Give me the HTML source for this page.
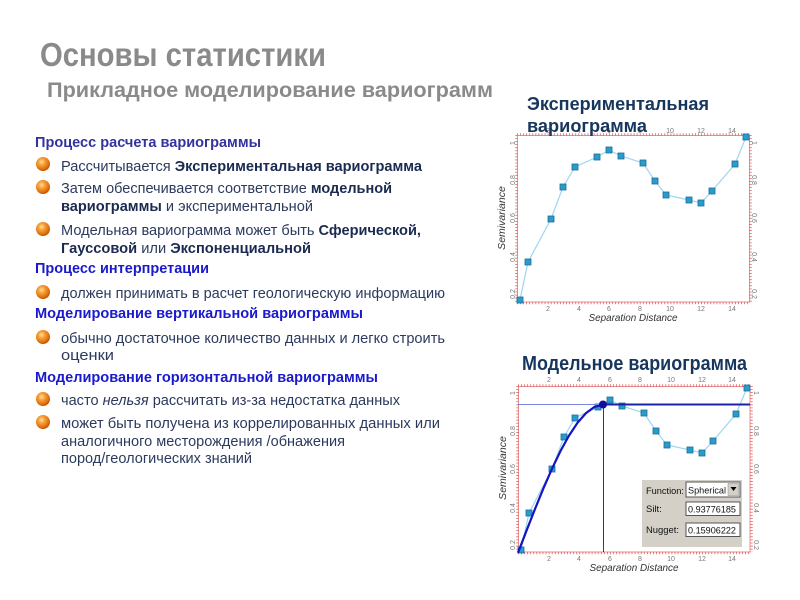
<!DOCTYPE html>
<html><head><meta charset="utf-8"><style>
html,body{margin:0;padding:0;background:#fff;}
svg{display:block;}
text{font-family:"Liberation Sans","DejaVu Sans",sans-serif;}
</style></head><body>
<svg width="800" height="600" viewBox="0 0 800 600" xmlns="http://www.w3.org/2000/svg">
<defs>
<radialGradient id="ball" cx="0.4" cy="0.35" r="0.65">
<stop offset="0" stop-color="#ffe0a0"/>
<stop offset="0.35" stop-color="#f7a23a"/>
<stop offset="0.8" stop-color="#e07010"/>
<stop offset="1" stop-color="#b85500"/>
</radialGradient>
</defs>
<rect width="800" height="600" fill="#fff"/>

<!-- Titles -->
<text x="40" y="66" font-size="33" font-weight="bold" fill="#8a8a8a" textLength="286" lengthAdjust="spacingAndGlyphs">Основы статистики</text>
<text x="47" y="97" font-size="21" font-weight="bold" fill="#8a8a8a" textLength="446" lengthAdjust="spacingAndGlyphs">Прикладное моделирование вариограмм</text>

<!-- Left text -->
<g font-size="15">
<text x="35" y="147" font-weight="bold" fill="#33339e" textLength="226" lengthAdjust="spacingAndGlyphs">Процесс расчета вариограммы</text>
<circle cx="43" cy="164" r="7" fill="url(#ball)"/>
<text x="61" y="171" fill="#2c3a5e" textLength="361" lengthAdjust="spacingAndGlyphs">Рассчитывается <tspan font-weight="bold" fill="#1a2a50">Экспериментальная вариограмма</tspan></text>
<circle cx="43" cy="187" r="7" fill="url(#ball)"/>
<text x="61" y="193" fill="#2c3a5e" textLength="331" lengthAdjust="spacingAndGlyphs">Затем обеспечивается соответствие <tspan font-weight="bold" fill="#1a2a50">модельной</tspan></text>
<text x="61" y="211" fill="#2c3a5e" textLength="252" lengthAdjust="spacingAndGlyphs"><tspan font-weight="bold" fill="#1a2a50">вариограммы</tspan> и экспериментальной</text>
<circle cx="43" cy="229" r="7" fill="url(#ball)"/>
<text x="61" y="235" fill="#2c3a5e" textLength="360" lengthAdjust="spacingAndGlyphs">Модельная вариограмма может быть <tspan font-weight="bold" fill="#1a2a50">Сферической,</tspan></text>
<text x="61" y="253" fill="#2c3a5e" textLength="250" lengthAdjust="spacingAndGlyphs"><tspan font-weight="bold" fill="#1a2a50">Гауссовой</tspan> или <tspan font-weight="bold" fill="#1a2a50">Экспоненциальной</tspan></text>
<text x="35" y="273" font-weight="bold" fill="#1a1acc" textLength="174" lengthAdjust="spacingAndGlyphs">Процесс интерпретации</text>
<circle cx="43" cy="292" r="7" fill="url(#ball)"/>
<text x="61" y="298" fill="#2c3a5e" textLength="384" lengthAdjust="spacingAndGlyphs">должен принимать в расчет геологическую информацию</text>
<text x="35" y="318" font-weight="bold" fill="#1a1acc" textLength="328" lengthAdjust="spacingAndGlyphs">Моделирование вертикальной вариограммы</text>
<circle cx="43" cy="337" r="7" fill="url(#ball)"/>
<text x="61" y="343" fill="#2c3a5e" textLength="384" lengthAdjust="spacingAndGlyphs">обычно достаточное количество данных и легко строить</text>
<text x="61" y="360" fill="#2c3a5e" textLength="53" lengthAdjust="spacingAndGlyphs">оценки</text>
<text x="35" y="382" font-weight="bold" fill="#1a1acc" textLength="343" lengthAdjust="spacingAndGlyphs">Моделирование горизонтальной вариограммы</text>
<circle cx="43" cy="399" r="7" fill="url(#ball)"/>
<text x="61" y="405" fill="#2c3a5e" textLength="339" lengthAdjust="spacingAndGlyphs">часто <tspan font-style="italic">нельзя</tspan> рассчитать из-за недостатка данных</text>
<circle cx="43" cy="422" r="7" fill="url(#ball)"/>
<text x="61" y="428" fill="#2c3a5e" textLength="379" lengthAdjust="spacingAndGlyphs">может быть получена из коррелированных данных  или</text>
<text x="61" y="446" fill="#2c3a5e" textLength="284" lengthAdjust="spacingAndGlyphs">аналогичного месторождения /обнажения</text>
<text x="61" y="463" fill="#2c3a5e" textLength="191" lengthAdjust="spacingAndGlyphs">пород/геологических знаний</text>
</g>

<!-- ===== Chart 1 ===== -->
<g>
<g font-size="7" fill="#777" text-anchor="middle">
<text x="548" y="133">2</text><text x="579" y="133">4</text><text x="609" y="133">6</text><text x="640" y="133">8</text><text x="670" y="133">10</text><text x="701" y="133">12</text><text x="732" y="133">14</text>
<text x="548" y="311">2</text><text x="579" y="311">4</text><text x="609" y="311">6</text><text x="640" y="311">8</text><text x="670" y="311">10</text><text x="701" y="311">12</text><text x="732" y="311">14</text>
<text transform="translate(515,294) rotate(-90)">0.2</text>
<text transform="translate(515,257) rotate(-90)">0.4</text>
<text transform="translate(515,218) rotate(-90)">0.6</text>
<text transform="translate(515,180) rotate(-90)">0.8</text>
<text transform="translate(515,143) rotate(-90)">1</text>
<text transform="translate(752,294) rotate(90)">0.2</text>
<text transform="translate(752,257) rotate(90)">0.4</text>
<text transform="translate(752,218) rotate(90)">0.6</text>
<text transform="translate(752,180) rotate(90)">0.8</text>
<text transform="translate(752,143) rotate(90)">1</text>
</g>
<rect x="517.5" y="135.5" width="232" height="166.5" fill="none" stroke="#e89090" stroke-width="1"/>
<g stroke="#e06060" stroke-width="2.5" stroke-dasharray="0.8 2.27" fill="none">
<line x1="517" y1="134.5" x2="750" y2="134.5"/>
<line x1="517" y1="303" x2="750" y2="303"/>
<line x1="516.5" y1="135" x2="516.5" y2="302"/>
<line x1="750.5" y1="135" x2="750.5" y2="302"/>
</g>
<text x="633" y="321" font-size="10.5" font-style="italic" fill="#333" text-anchor="middle" textLength="89" lengthAdjust="spacingAndGlyphs">Separation Distance</text>
<text transform="translate(505,218) rotate(-90)" font-size="10.5" font-style="italic" fill="#333" text-anchor="middle">Semivariance</text>
<polyline fill="none" stroke="#9ed6f0" stroke-width="1.2" points="520,300 528,262 551,219 563,187 575,167 597,157 609,150 621,156 643,163 655,181 666,195 689,200 701,203 712,191 735,164 746,137"/>
<g fill="#2a9ccc" stroke="#1a6f98" stroke-width="0.8">
<rect x="517" y="297" width="6" height="6"/><rect x="525" y="259" width="6" height="6"/><rect x="548" y="216" width="6" height="6"/><rect x="560" y="184" width="6" height="6"/><rect x="572" y="164" width="6" height="6"/><rect x="594" y="154" width="6" height="6"/><rect x="606" y="147" width="6" height="6"/><rect x="618" y="153" width="6" height="6"/><rect x="640" y="160" width="6" height="6"/><rect x="652" y="178" width="6" height="6"/><rect x="663" y="192" width="6" height="6"/><rect x="686" y="197" width="6" height="6"/><rect x="698" y="200" width="6" height="6"/><rect x="709" y="188" width="6" height="6"/><rect x="732" y="161" width="6" height="6"/><rect x="743" y="134" width="6" height="6"/>
</g>
<text x="527" y="110" font-size="18" font-weight="bold" fill="#17365d" textLength="182" lengthAdjust="spacingAndGlyphs">Экспериментальная</text>
<text x="527" y="132" font-size="18" font-weight="bold" fill="#17365d" textLength="120" lengthAdjust="spacingAndGlyphs">вариограмма</text>
</g>

<!-- ===== Chart 2 ===== -->
<g>
<text x="522" y="370" font-size="20" font-weight="bold" fill="#17365d" textLength="225" lengthAdjust="spacingAndGlyphs">Модельное вариограмма</text>
<g font-size="7" fill="#777" text-anchor="middle">
<text x="549" y="382">2</text><text x="579" y="382">4</text><text x="610" y="382">6</text><text x="640" y="382">8</text><text x="671" y="382">10</text><text x="702" y="382">12</text><text x="732" y="382">14</text>
<text x="549" y="561">2</text><text x="579" y="561">4</text><text x="610" y="561">6</text><text x="640" y="561">8</text><text x="671" y="561">10</text><text x="702" y="561">12</text><text x="732" y="561">14</text>
<text transform="translate(515,545) rotate(-90)">0.2</text>
<text transform="translate(515,508) rotate(-90)">0.4</text>
<text transform="translate(515,469) rotate(-90)">0.6</text>
<text transform="translate(515,431) rotate(-90)">0.8</text>
<text transform="translate(515,393) rotate(-90)">1</text>
<text transform="translate(754,545) rotate(90)">0.2</text>
<text transform="translate(754,508) rotate(90)">0.4</text>
<text transform="translate(754,469) rotate(90)">0.6</text>
<text transform="translate(754,431) rotate(90)">0.8</text>
<text transform="translate(754,393) rotate(90)">1</text>
</g>
<rect x="518.5" y="386.5" width="231.5" height="165.5" fill="none" stroke="#e89090" stroke-width="1"/>
<g stroke="#e06060" stroke-width="2.5" stroke-dasharray="0.8 2.27" fill="none">
<line x1="518" y1="385.5" x2="751" y2="385.5"/>
<line x1="518" y1="553" x2="751" y2="553"/>
<line x1="517.5" y1="386" x2="517.5" y2="552"/>
<line x1="751.5" y1="386" x2="751.5" y2="552"/>
</g>
<text x="634" y="571" font-size="10.5" font-style="italic" fill="#333" text-anchor="middle" textLength="89" lengthAdjust="spacingAndGlyphs">Separation Distance</text>
<text transform="translate(506,468) rotate(-90)" font-size="10.5" font-style="italic" fill="#333" text-anchor="middle">Semivariance</text>
<polyline fill="none" stroke="#9ed6f0" stroke-width="1.2" points="521,550 529,513 552,469 564,437 575,418 598,407 610,400 622,406 644,413 656,431 667,445 690,450 702,453 713,441 736,414 747,388"/>
<g fill="#2a9ccc" stroke="#1a6f98" stroke-width="0.8">
<rect x="518" y="547" width="6" height="6"/><rect x="526" y="510" width="6" height="6"/><rect x="549" y="466" width="6" height="6"/><rect x="561" y="434" width="6" height="6"/><rect x="572" y="415" width="6" height="6"/><rect x="595" y="404" width="6" height="6"/><rect x="607" y="397" width="6" height="6"/><rect x="619" y="403" width="6" height="6"/><rect x="641" y="410" width="6" height="6"/><rect x="653" y="428" width="6" height="6"/><rect x="664" y="442" width="6" height="6"/><rect x="687" y="447" width="6" height="6"/><rect x="699" y="450" width="6" height="6"/><rect x="710" y="438" width="6" height="6"/><rect x="733" y="411" width="6" height="6"/><rect x="744" y="385" width="6" height="6"/>
</g>
<line x1="518" y1="404.5" x2="603" y2="404.5" stroke="#7a86e0" stroke-width="1"/>
<line x1="603" y1="404.5" x2="750" y2="404.5" stroke="#1a22a8" stroke-width="2"/>
<line x1="603.5" y1="404" x2="603.5" y2="552" stroke="#2a2ad0" stroke-width="1"/>
<polyline fill="none" stroke="#1414c0" stroke-width="2.2" points="518,552.8 526.5,530.7 535,509 543.5,488.2 552,468.7 560.5,451 569,435.6 577.5,422.8 586,413.1 594.5,406.9 603,404.8"/>
<circle cx="603" cy="404.5" r="4" fill="#1010a0"/>
<rect x="642" y="480" width="100" height="67" fill="#d4d0c8"/>
<g font-size="9.5" fill="#111">
<text x="646" y="494" textLength="38" lengthAdjust="spacingAndGlyphs">Function:</text>
<text x="646" y="512">Silt:</text>
<text x="646" y="533" textLength="33" lengthAdjust="spacingAndGlyphs">Nugget:</text>
</g>
<rect x="686" y="482" width="54" height="15" fill="#fff" stroke="#555" stroke-width="1"/>
<rect x="728" y="483.5" width="10.5" height="12" fill="#d4d0c8" stroke="#888" stroke-width="0.5"/>
<path d="M730.5 487 L736.5 487 L733.5 491 Z" fill="#000"/>
<text x="688" y="493.5" font-size="9.5" fill="#111" textLength="38" lengthAdjust="spacingAndGlyphs">Spherical</text>
<rect x="686" y="502" width="54" height="13.5" fill="#fff" stroke="#555" stroke-width="1"/>
<text x="688" y="512.5" font-size="9.5" fill="#111" textLength="48" lengthAdjust="spacingAndGlyphs">0.93776185</text>
<rect x="686" y="523" width="54" height="13.5" fill="#fff" stroke="#555" stroke-width="1"/>
<text x="688" y="533.5" font-size="9.5" fill="#111" textLength="48" lengthAdjust="spacingAndGlyphs">0.15906222</text>
</g>
</svg>
</body></html>
